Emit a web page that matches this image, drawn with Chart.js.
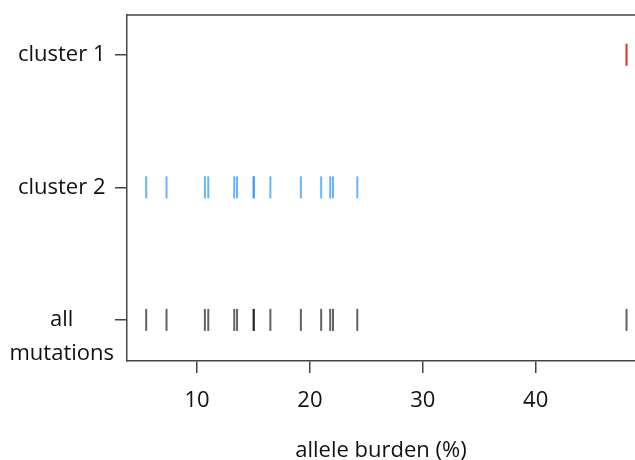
<!DOCTYPE html>
<html>
<head>
<meta charset="utf-8">
<script src="https://cdn.jsdelivr.net/npm/chart.js@4/dist/chart.umd.min.js"></script>
<style>
  html, body { margin: 0; padding: 0; background: #fff; }
  #wrap { width: 635px; height: 460px; }
</style>
</head>
<body>
<div id="wrap"><canvas id="strip"></canvas></div>
<script>
/* Werte (allele burden in %) */
const rowLabels = [['', 'all', 'mutations'], 'cluster 2', 'cluster 1'];
const rowValues = [1, 2, 3];
const clusterOne = [48.05];
const clusterTwo = [5.5, 7.3, 10.7, 11.0, 13.3, 13.55, 15.0, 15.05, 16.5, 19.2, 21.0, 21.8, 22.05, 24.2];
const allMutations = clusterTwo.concat(clusterOne);
const xTicks = [10, 20, 30, 40];

const FONT = "'Open Sans', 'Noto Sans', sans-serif";
const AXIS = '#444';

const toPoints = (vals, row) => vals.map(v => ({ x: v, y: row }));
const mark = (label, data, color) => ({
  label, data,
  pointStyle: 'line', rotation: 90, radius: 11, hoverRadius: 11,
  borderColor: color, backgroundColor: color, borderWidth: 2,
  showLine: false,
});

/* Rahmen oben (R-Box ohne rechte Kante, die liegt außerhalb) */
const topBorder = {
  id: 'topBorder',
  afterDraw(chart) {
    const { ctx, chartArea: a } = chart;
    ctx.save();
    ctx.strokeStyle = AXIS;
    ctx.lineWidth = 1.5;
    ctx.beginPath();
    ctx.moveTo(a.left, a.top);
    ctx.lineTo(a.right, a.top);
    ctx.stroke();
    ctx.restore();
  },
};

new Chart(document.getElementById('strip').getContext('2d'), {
  type: 'scatter',
  data: {
    datasets: [
      mark('all mutations', toPoints(allMutations, rowValues[0]), 'rgba(0,0,0,0.62)'),
      mark('cluster 2', toPoints(clusterTwo, rowValues[1]), 'rgba(30,144,255,0.68)'),
      mark('cluster 1', toPoints(clusterOne, rowValues[2]), '#e52a2a'),
    ],
  },
  options: {
    responsive: true, maintainAspectRatio: false,
    animation: false,
    layout: { autoPadding: false, padding: { top: 15, right: 0, bottom: 0, left: 0 } },
    plugins: { legend: { display: false }, tooltip: { enabled: false } },
    scales: {
      x: {
        type: 'linear', min: 3.8, max: 48.8,
        afterBuildTicks: s => { s.ticks = xTicks.map(v => ({ value: v })); },
        afterFit: s => { s.height = 99; },
        ticks: { color: '#111', font: { family: FONT, size: 22 }, padding: 15, maxRotation: 0 },
        grid: { drawOnChartArea: false, tickLength: 12, color: AXIS, lineWidth: 1.5 },
        border: { display: true, color: AXIS, width: 1.5 },
        title: {
          display: true, text: 'allele burden (%)', color: '#111',
          font: { family: FONT, size: 22 }, padding: { top: 0, bottom: -4 },
        },
      },
      y: {
        type: 'linear', min: 0.69, max: 3.3,
        afterBuildTicks: s => { s.ticks = rowValues.map(v => ({ value: v })); },
        afterFit: s => { s.width = 127; },
        ticks: {
          color: '#111',
          font: c => ({ family: FONT, size: 22, lineHeight: c.tick && c.tick.value === 1 ? 1.55 : 1.1 }),
          padding: 1, crossAlign: 'center',
          callback: v => rowLabels[rowValues.indexOf(v)],
        },
        grid: { drawOnChartArea: false, tickLength: 12, color: AXIS, lineWidth: 1.5 },
        border: { display: true, color: AXIS, width: 1.5 },
      },
    },
  },
  plugins: [topBorder],
});
</script>
</body>
</html>
